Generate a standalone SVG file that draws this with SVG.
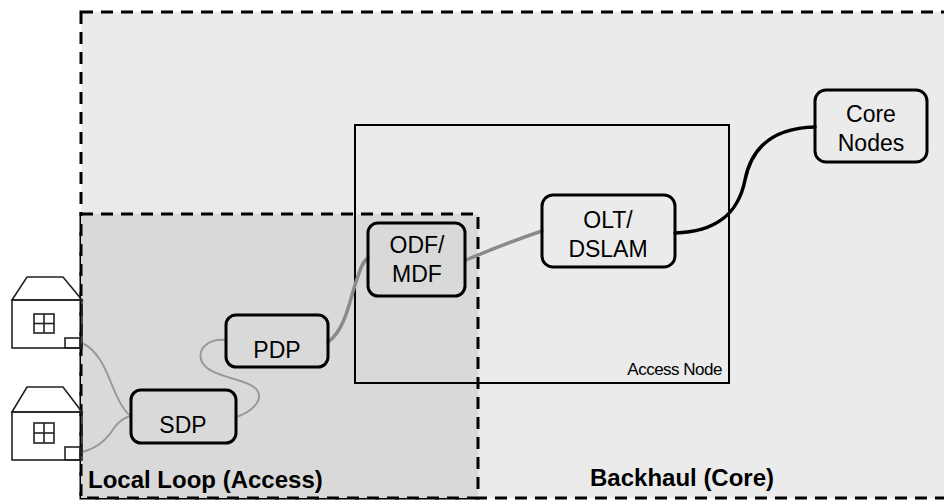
<svg xmlns="http://www.w3.org/2000/svg" width="944" height="502" viewBox="0 0 944 502">
<style>
.zone{stroke:#000;stroke-width:3;stroke-dasharray:12 8;}
.node rect{fill:none;stroke:#000;stroke-width:3;}
.lbl{font-family:"Liberation Sans",Arial,sans-serif;font-size:23px;fill:#000;text-anchor:middle;}
.zl{font-family:"Liberation Sans",Arial,sans-serif;font-size:24px;font-weight:bold;fill:#000;}
.house{fill:none;stroke:#222;stroke-width:1.6;}
.wire{fill:none;stroke:#8a8a8a;stroke-width:3.5;stroke-linecap:round;}
.wire2{fill:none;stroke:#999;stroke-width:2;stroke-linecap:round;}
.core{fill:none;stroke:#000;stroke-width:3.5;stroke-linecap:round;}
</style>
<rect width="944" height="502" fill="#fff"/>
<g id="backhaul">
<rect class="zone" x="81" y="12" width="880" height="486" fill="#ebebeb"/>
<text class="zl" x="590" y="486">Backhaul (Core)</text>
</g>
<g id="local-loop">
<rect class="zone" x="81" y="214" width="397" height="284" fill="#d9d9d9"/>
<text class="zl" x="88" y="488">Local Loop (Access)</text>
</g>
<g id="access-node">
<rect x="355" y="125" width="374" height="258" fill="none" stroke="#000" stroke-width="2"/>
<text x="722" y="375" font-family="Liberation Sans,Arial,sans-serif" font-size="17" letter-spacing="-0.5" text-anchor="end" fill="#000">Access Node</text>
</g>
<g id="connectors">
<path class="wire2" d="M82,343 C98,350 106,370 112,385 C118,400 124,412 131,416"/>
<path class="wire2" d="M82,452 C98,448 108,438 114,428 C120,420 126,417 131,416"/>
<path class="wire2" d="M236,417 C252,412 264,400 257,390 C248,378 210,378 202,362 C196,348 210,338 226,340"/>
<path class="wire" d="M328,342 C345,330 350,300 355,285 C360,270 362,262 368,258"/>
<path class="wire" d="M466,260 C490,250 515,240 542,231"/>
<path class="core" d="M675,233 C715,232 738,215 745,180 C752,145 775,128 815,127"/>
</g>
<g id="house-1" class="house">
<polygon points="12,300 27,277 63,277 82,300"/>
<rect x="12" y="300" width="70" height="48"/>
<rect x="34" y="314" width="20" height="19"/>
<line x1="44" y1="314" x2="44" y2="333"/>
<line x1="34" y1="323.5" x2="54" y2="323.5"/>
<rect x="65" y="338" width="15" height="10"/>
</g>
<g id="house-2" class="house">
<polygon points="12,412 27,387 63,387 82,412"/>
<rect x="12" y="412" width="70" height="48"/>
<rect x="34" y="423" width="20" height="20"/>
<line x1="44" y1="423" x2="44" y2="443"/>
<line x1="34" y1="433" x2="54" y2="433"/>
<rect x="65" y="447" width="15" height="13"/>
</g>
<g id="sdp" class="node">
<rect x="131" y="390" width="105" height="53" rx="10"/>
<text class="lbl" x="183" y="433">SDP</text>
</g>
<g id="pdp" class="node">
<rect x="226" y="315" width="102" height="52" rx="10"/>
<text class="lbl" x="277" y="358">PDP</text>
</g>
<g id="odf-mdf" class="node">
<rect x="368" y="223" width="97" height="73" rx="10"/>
<text class="lbl" x="417" y="253">ODF/</text>
<text class="lbl" x="417" y="282">MDF</text>
</g>
<g id="olt-dslam" class="node">
<rect x="542" y="195" width="133" height="72" rx="11"/>
<text class="lbl" x="608" y="228">OLT/</text>
<text class="lbl" x="608" y="257">DSLAM</text>
</g>
<g id="core-nodes" class="node">
<rect x="815" y="90" width="112" height="72" rx="11"/>
<text class="lbl" x="871" y="122">Core</text>
<text class="lbl" x="871" y="151">Nodes</text>
</g>
</svg>
